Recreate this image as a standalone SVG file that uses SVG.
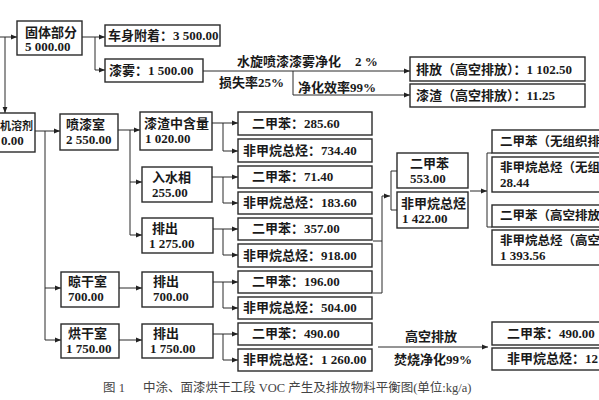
<svg xmlns="http://www.w3.org/2000/svg" width="599" height="400" viewBox="0 0 599 400">
<defs>
<marker id="ah" markerWidth="6" markerHeight="6" refX="6" refY="3" orient="auto" markerUnits="userSpaceOnUse"><path d="M0,0.6 L6,3 L0,5.4 Z" fill="#222"/></marker>
</defs>
<style>
.box{fill:#fff;stroke:#2a2a2a;stroke-width:1.4}
.t{font-family:"Liberation Serif","Noto Sans CJK SC",serif;font-size:13px;font-weight:bold;fill:#1a1a1a}
.s{font-size:12.5px}
.c{fill:none;stroke:#2a2a2a;stroke-width:1}
.a{marker-end:url(#ah)}
.cap{font-family:"Liberation Serif","Noto Sans CJK SC",serif;font-size:12.5px;fill:#444}
</style>
<rect width="599" height="400" fill="#fff"/>
<g id="connectors">
<path class="c a" d="M0,37 H17"/>
<path class="c a" d="M5,37 V113"/>
<path class="c a" d="M82,37 H105"/>
<path class="c a" d="M95,37 V70 H105"/>
<path class="c a" d="M203,71 H410"/>
<path class="c a" d="M293,71 V95 H410"/>
<path class="c a" d="M35,131 H60"/>
<path class="c" d="M45,131 V340"/>
<path class="c a" d="M45,288 H61"/>
<path class="c a" d="M45,340 H61"/>
<path class="c a" d="M118,130 H140"/>
<path class="c" d="M130,130 V235"/>
<path class="c a" d="M130,182 H142"/>
<path class="c a" d="M130,235 H142"/>
<path class="c a" d="M119,288 H142"/>
<path class="c a" d="M119,340 H142"/>
<path class="c a" d="M212,123 H238"/>
<path class="c a" d="M223,123 V151 H238"/>
<path class="c a" d="M212,177 H238"/>
<path class="c a" d="M223,177 V203 H238"/>
<path class="c a" d="M213,229 H238"/>
<path class="c a" d="M223,229 V255 H238"/>
<path class="c a" d="M213,282 H238"/>
<path class="c a" d="M223,282 V308 H238"/>
<path class="c a" d="M213,334 H238"/>
<path class="c a" d="M223,334 V360 H238"/>
<path class="c" d="M373,241 H382 V293 H373"/>
<path class="c a" d="M382,241 V196 H390"/>
<path class="c" d="M397,171 H391 V210 H397"/>
<path class="c a" d="M470,191 H487"/>
<path class="c" d="M492,153 H487 V227 H492"/>
<path class="c a" d="M378,347 H488"/>
</g>
<g id="n-solid"><rect class="box" x="17" y="21" width="65" height="34"/><text class="t" x="25" y="37">固体部分</text><text class="t" x="25" y="51">5 000.00</text></g>
<g id="n-body"><rect class="box" x="105" y="25" width="115" height="21"/><text class="t" x="108" y="40">车身附着：3 500.00</text></g>
<g id="n-mist"><rect class="box" x="105" y="59" width="98" height="23"/><text class="t" x="109" y="75">漆雾：1 500.00</text></g>
<g id="n-emit"><rect class="box" x="410" y="57" width="175" height="24"/><text class="t" x="416" y="74">排放（高空排放）：1 102.50</text></g>
<g id="n-slag"><rect class="box" x="410" y="84" width="175" height="23"/><text class="t" x="416" y="100">漆渣（高空排放）：11.25</text></g>
<g id="labels">
<text class="t" x="237" y="66">水旋喷漆漆雾净化</text>
<text class="t" x="355" y="66">2 %</text>
<text class="t" x="219" y="87">损失率25%</text>
<text class="t" x="298" y="92">净化效率99%</text>
<text class="t" x="405" y="341">高空排放</text>
<text class="t" x="394" y="364">焚烧净化99%</text>
</g>
<g id="n-solvent"><rect class="box" x="-10" y="113" width="45" height="39"/><text class="t" x="0" y="130" style="font-size:11px">机溶剂</text><text class="t" x="1" y="145">0.00</text></g>
<g id="n-spray"><rect class="box" x="60" y="114" width="58" height="36"/><text class="t" x="66" y="129">喷漆室</text><text class="t" x="66" y="144">2 550.00</text></g>
<g id="n-paintslag"><rect class="box" x="140" y="112" width="72" height="38"/><text class="t" x="144" y="128">漆渣中含量</text><text class="t" x="145" y="143">1 020.00</text></g>
<g id="n-water"><rect class="box" x="142" y="167" width="70" height="35"/><text class="t" x="152" y="182">入水相</text><text class="t" x="152" y="197">255.00</text></g>
<g id="n-exhaust1"><rect class="box" x="142" y="218" width="71" height="35"/><text class="t" x="152" y="233">排出</text><text class="t" x="149" y="248">1 275.00</text></g>
<g id="n-flash"><rect class="box" x="61" y="272" width="58" height="35"/><text class="t" x="68" y="286">晾干室</text><text class="t" x="68" y="301">700.00</text></g>
<g id="n-oven"><rect class="box" x="61" y="324" width="58" height="34"/><text class="t" x="68" y="338">烘干室</text><text class="t" x="66" y="353">1 750.00</text></g>
<g id="n-exhaust2"><rect class="box" x="142" y="272" width="71" height="35"/><text class="t" x="153" y="286">排出</text><text class="t" x="153" y="301">700.00</text></g>
<g id="n-exhaust3"><rect class="box" x="142" y="324" width="71" height="34"/><text class="t" x="153" y="338">排出</text><text class="t" x="150" y="353">1 750.00</text></g>
<g id="n-a"><rect class="box" x="238" y="112" width="134" height="23"/><text class="t" x="252" y="128">二甲苯：285.60</text></g>
<g id="n-b"><rect class="box" x="238" y="139" width="134" height="23"/><text class="t" x="243" y="155">非甲烷总烃：734.40</text></g>
<g id="n-c"><rect class="box" x="238" y="166" width="134" height="22"/><text class="t" x="252" y="181">二甲苯：71.40</text></g>
<g id="n-d"><rect class="box" x="238" y="192" width="134" height="22"/><text class="t" x="243" y="207">非甲烷总烃：183.60</text></g>
<g id="n-e"><rect class="box" x="238" y="218" width="134" height="22"/><text class="t" x="252" y="233">二甲苯：357.00</text></g>
<g id="n-f"><rect class="box" x="238" y="244" width="134" height="23"/><text class="t" x="243" y="260">非甲烷总烃：918.00</text></g>
<g id="n-g"><rect class="box" x="238" y="271" width="134" height="22"/><text class="t" x="252" y="286">二甲苯：196.00</text></g>
<g id="n-h"><rect class="box" x="238" y="297" width="134" height="22"/><text class="t" x="243" y="312">非甲烷总烃：504.00</text></g>
<g id="n-i"><rect class="box" x="238" y="323" width="134" height="22"/><text class="t" x="252" y="338">二甲苯：490.00</text></g>
<g id="n-j"><rect class="box" x="238" y="349" width="134" height="22"/><text class="t" x="243" y="364">非甲烷总烃：1 260.00</text></g>
<g id="n-xyl553"><rect class="box" x="397" y="153" width="71" height="35"/><text class="t" x="410" y="168">二甲苯</text><text class="t" x="410" y="183">553.00</text></g>
<g id="n-nmhc1422"><rect class="box" x="397" y="192" width="71" height="36"/><text class="t" x="401" y="208">非甲烷总烃</text><text class="t" x="402" y="223">1 422.00</text></g>
<g id="n-r1"><rect class="box" x="492" y="130" width="120" height="23"/><text class="t s" x="500" y="146">二甲苯（无组织排</text></g>
<g id="n-r2"><rect class="box" x="492" y="157" width="120" height="35"/><text class="t s" x="500" y="172">非甲烷总烃（无组</text><text class="t" x="500" y="187">28.44</text></g>
<g id="n-r3"><rect class="box" x="492" y="205" width="120" height="22"/><text class="t s" x="500" y="220">二甲苯（高空排放</text></g>
<g id="n-r4"><rect class="box" x="492" y="230" width="120" height="35"/><text class="t s" x="500" y="245">非甲烷总烃（高空</text><text class="t" x="500" y="260">1 393.56</text></g>
<g id="n-r5"><rect class="box" x="492" y="322" width="120" height="23"/><text class="t" x="507" y="338">二甲苯：490.00</text></g>
<g id="n-r6"><rect class="box" x="492" y="348" width="120" height="22"/><text class="t" x="507" y="363">非甲烷总烃：12</text></g>
<g id="caption"><text class="cap" x="103" y="392">图 1</text><text class="cap" x="143" y="392">中涂、面漆烘干工段 VOC 产生及排放物料平衡图(单位:kg/a)</text></g>
</svg>
